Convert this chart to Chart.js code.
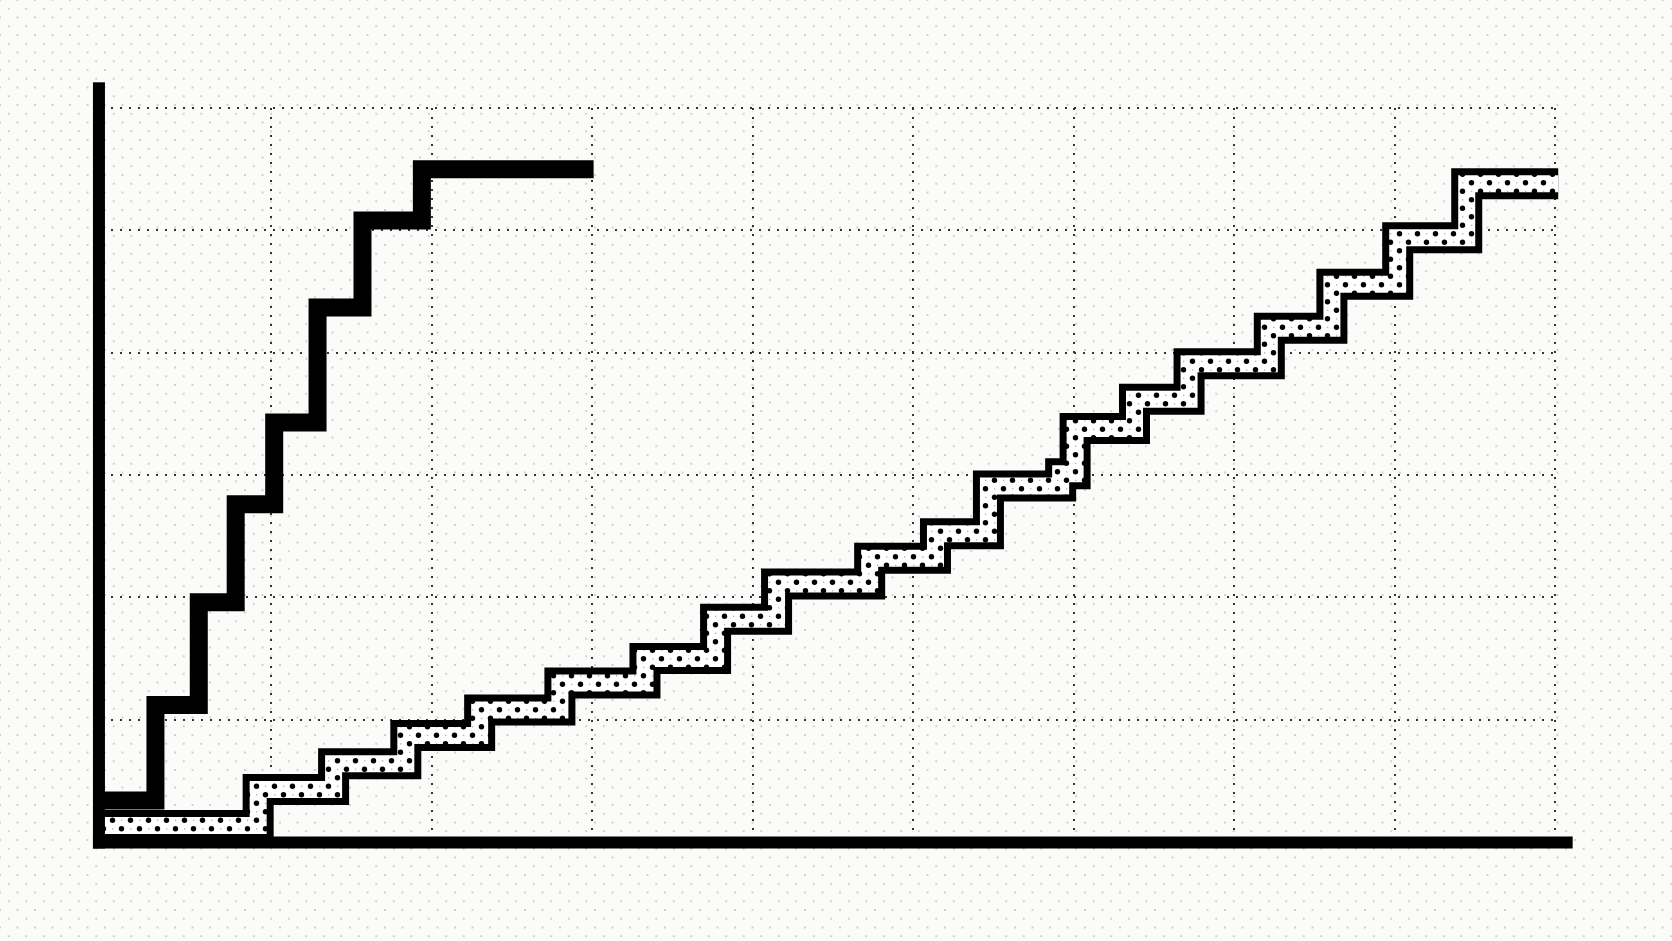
<!DOCTYPE html>
<html>
<head>
<meta charset="utf-8">
<script src="https://cdn.jsdelivr.net/npm/chart.js@4.4.1/dist/chart.umd.min.js"></script>
<style>
  html, body { margin: 0; padding: 0; }
  body {
    width: 1672px; height: 941px; overflow: hidden;
    background-color: #fbfbf9;
    background-image:
      radial-gradient(circle, #cfcfcc 0.9px, rgba(0,0,0,0) 1.3px),
      radial-gradient(circle, #cfcfcc 0.9px, rgba(0,0,0,0) 1.3px);
    background-size: 17.5px 17.5px;
    background-position: 0 0, 8.75px 8.75px;
  }
  #wrap { position: relative; width: 1672px; height: 941px; }
</style>
</head>
<body>
<div id="wrap"><canvas id="chart"></canvas></div>
<script>
// Two step series. Units: one grid cell = 10.
// A step point (x, y) means: run flat at the previous level up to x, then jump to y.

// solid black staircase (steep, stops early)
const steepX = [-0.7, 2.8, 5.5, 7.8, 10.2, 12.9, 15.7, 19.4, 30.1];
const steepY = [3.4, 11.2, 19.6, 27.6, 34.3, 43.7, 50.8, 55.0, 55.0];

// dotted band staircase (slow, runs to the right edge)
const bandX = [-0.7, 9.2, 13.9, 18.4, 23.0, 28.0, 33.3, 37.7, 41.5, 47.3, 51.4,
               54.7, 59.2, 60.1, 63.8, 67.2, 72.2, 76.1, 80.2, 84.5, 90.2];
const bandY = [1.35, 4.3, 6.4, 8.7, 10.8, 13.0, 15.0, 18.2, 21.1, 23.2, 25.2,
               29.1, 30.1, 33.8, 36.2, 39.1, 42.0, 45.6, 49.4, 53.8, 53.8];

// grid: 9 columns x 6 rows
const X_MAX = 90;
const Y_MAX = 60;
const GRID_STEP = 10;

// where the heavy axis lines sit / end, in the same units
const AXIS_X = -0.72;
const AXIS_TOP = 62.1;
const AXIS_END = 91.1;

const toPoints = (xs, ys) => xs.map((x, i) => ({ x, y: ys[i] }));

// white fill with staggered black dots, for the band's inside
function dotPattern() {
  const c = document.createElement("canvas");
  c.width = 18;
  c.height = 17;
  const g = c.getContext("2d");
  g.fillStyle = "#ffffff";
  g.fillRect(0, 0, 18, 17);
  g.fillStyle = "#000000";
  g.beginPath(); g.arc(4.5, 4.25, 2.7, 0, Math.PI * 2); g.fill();
  g.beginPath(); g.arc(13.5, 12.75, 2.7, 0, Math.PI * 2); g.fill();
  g.fillStyle = "#b0b0b0";
  g.fillRect(13, 3.7, 1.3, 1.3);
  g.fillRect(4, 12.2, 1.3, 1.3);
  return g.createPattern(c, "repeat");
}

// heavy black axes, drawn over the data
const axesPlugin = {
  id: "heavyAxes",
  afterDatasetsDraw(chart) {
    const { ctx, scales: { x, y } } = chart;
    const left = x.getPixelForValue(AXIS_X);
    const right = x.getPixelForValue(AXIS_END);
    const top = y.getPixelForValue(AXIS_TOP);
    const base = y.getPixelForValue(0);
    ctx.save();
    ctx.fillStyle = "#000000";
    ctx.fillRect(left - 6, top, 12, base - top + 6.5);
    ctx.fillRect(left - 6, base - 5.5, right - left + 6, 12);
    ctx.restore();
  },
};

const hideZero = (c) => (c.tick && c.tick.value === 0 ? "rgba(0,0,0,0)" : "#333333");

const stepLine = {
  stepped: true,
  pointRadius: 0,
  pointHoverRadius: 0,
  fill: false,
  clip: false,
  borderCapStyle: "butt",
  borderJoinStyle: "miter",
};

new Chart(document.getElementById("chart"), {
  type: "line",
  data: {
    datasets: [
      // first dataset is drawn on top
      { ...stepLine, data: toPoints(bandX, bandY), borderColor: dotPattern(), borderWidth: 17 },
      { ...stepLine, data: toPoints(bandX, bandY), borderColor: "#000000", borderWidth: 31 },
      { ...stepLine, data: toPoints(steepX, steepY), borderColor: "#000000", borderWidth: 18 },
    ],
  },
  options: {
    responsive: true,
    maintainAspectRatio: false,
    animation: false,
    devicePixelRatio: 1,
    events: [],
    layout: { padding: { left: 110.5, right: 117, top: 108, bottom: 99 } },
    scales: {
      x: {
        type: "linear",
        min: 0,
        max: X_MAX,
        ticks: { display: false, stepSize: GRID_STEP },
        grid: { color: hideZero, lineWidth: 2, drawTicks: false },
        border: { display: false, dash: [2, 7] },
      },
      y: {
        type: "linear",
        min: 0,
        max: Y_MAX,
        ticks: { display: false, stepSize: GRID_STEP },
        grid: { color: hideZero, lineWidth: 2, drawTicks: false },
        border: { display: false, dash: [2, 7] },
      },
    },
    plugins: {
      legend: { display: false },
      tooltip: { enabled: false },
    },
  },
  plugins: [axesPlugin],
});
</script>
</body>
</html>
